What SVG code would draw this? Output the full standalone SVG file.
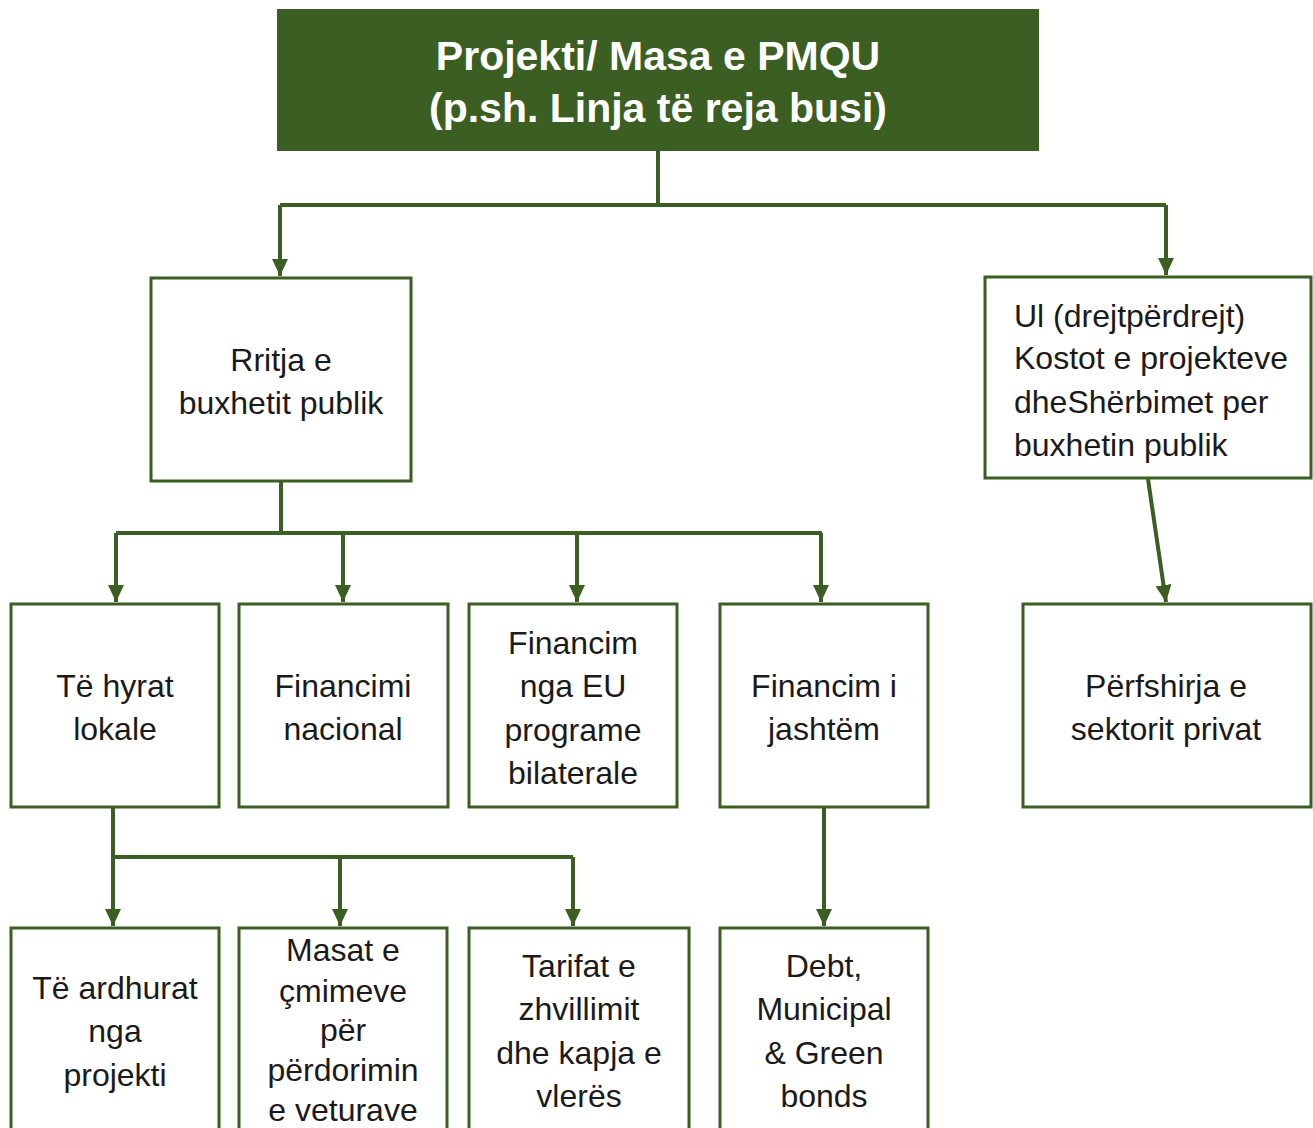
<svg xmlns="http://www.w3.org/2000/svg" width="1313" height="1128" viewBox="0 0 1313 1128">
<style>
.box{fill:#fff;stroke:#3b5e22;stroke-width:3}
.top{fill:#3b5e22}
.t{font-family:"Liberation Sans",Arial,sans-serif;font-size:32px;fill:#1a1a1a;text-anchor:middle}
.tl{text-anchor:start}
.title{font-family:"Liberation Sans",Arial,sans-serif;font-size:41px;font-weight:bold;fill:#fff;text-anchor:middle}
.c{fill:none;stroke:#3b5e22;stroke-width:4}
</style>
<defs>
<marker id="ah" markerUnits="userSpaceOnUse" markerWidth="18" markerHeight="16" refX="17" refY="8" orient="auto">
<path d="M0,0 L17,8 L0,16 z" fill="#3b5e22"/>
</marker>
</defs>
<rect width="1313" height="1128" fill="#fff"/>
<g id="connectors">
<path class="c" d="M658,151 V205 M280,205 H1166"/>
<path class="c" d="M280,205 V276" marker-end="url(#ah)"/>
<path class="c" d="M1166,205 V275" marker-end="url(#ah)"/>
<path class="c" d="M281,481 V533 M116,533 H822"/>
<path class="c" d="M116,533 V602" marker-end="url(#ah)"/>
<path class="c" d="M343,533 V602" marker-end="url(#ah)"/>
<path class="c" d="M577,533 V602" marker-end="url(#ah)"/>
<path class="c" d="M821,533 V602" marker-end="url(#ah)"/>
<path class="c" d="M1148,479 L1166,602" marker-end="url(#ah)"/>
<path class="c" d="M113,807 V857 M113,857 H573"/>
<path class="c" d="M113,857 V926" marker-end="url(#ah)"/>
<path class="c" d="M340,857 V926" marker-end="url(#ah)"/>
<path class="c" d="M573,857 V926" marker-end="url(#ah)"/>
<path class="c" d="M824,807 V926" marker-end="url(#ah)"/>
</g>
<g id="n-top">
<rect class="top" x="277" y="9" width="762" height="142"/>
<text class="title" x="658" y="70">Projekti/ Masa e PMQU</text>
<text class="title" x="658" y="122">(p.sh. Linja të reja busi)</text>
</g>
<g id="n-rritja">
<rect class="box" x="151" y="278" width="260" height="203"/>
<text class="t" x="281" y="371">Rritja e</text>
<text class="t" x="281" y="414">buxhetit publik</text>
</g>
<g id="n-ul">
<rect class="box" x="985" y="277" width="326" height="201"/>
<text class="t tl" x="1014" y="327">Ul (drejtpërdrejt)</text>
<text class="t tl" x="1014" y="369">Kostot e projekteve</text>
<text class="t tl" x="1014" y="413">dheShërbimet per</text>
<text class="t tl" x="1014" y="456">buxhetin publik</text>
</g>
<g id="n-hyrat">
<rect class="box" x="11" y="604" width="208" height="203"/>
<text class="t" x="115" y="697">Të hyrat</text>
<text class="t" x="115" y="740">lokale</text>
</g>
<g id="n-nacional">
<rect class="box" x="239" y="604" width="209" height="203"/>
<text class="t" x="343" y="697">Financimi</text>
<text class="t" x="343" y="740">nacional</text>
</g>
<g id="n-eu">
<rect class="box" x="469" y="604" width="208" height="203"/>
<text class="t" x="573" y="654">Financim</text>
<text class="t" x="573" y="697">nga EU</text>
<text class="t" x="573" y="741">programe</text>
<text class="t" x="573" y="784">bilaterale</text>
</g>
<g id="n-jashtem">
<rect class="box" x="720" y="604" width="208" height="203"/>
<text class="t" x="824" y="697">Financim i</text>
<text class="t" x="824" y="740">jashtëm</text>
</g>
<g id="n-privat">
<rect class="box" x="1023" y="604" width="288" height="203"/>
<text class="t" x="1166" y="697">Përfshirja e</text>
<text class="t" x="1166" y="740">sektorit privat</text>
</g>
<g id="n-ardhurat">
<rect class="box" x="11" y="928" width="208" height="210"/>
<text class="t" x="115" y="999">Të ardhurat</text>
<text class="t" x="115" y="1042">nga</text>
<text class="t" x="115" y="1086">projekti</text>
</g>
<g id="n-masat">
<rect class="box" x="239" y="928" width="208" height="210"/>
<text class="t" x="343" y="961">Masat e</text>
<text class="t" x="343" y="1002">çmimeve</text>
<text class="t" x="343" y="1041">për</text>
<text class="t" x="343" y="1081">përdorimin</text>
<text class="t" x="343" y="1121">e veturave</text>
</g>
<g id="n-tarifat">
<rect class="box" x="469" y="928" width="220" height="210"/>
<text class="t" x="579" y="977">Tarifat e</text>
<text class="t" x="579" y="1020">zhvillimit</text>
<text class="t" x="579" y="1064">dhe kapja e</text>
<text class="t" x="579" y="1107">vlerës</text>
</g>
<g id="n-debt">
<rect class="box" x="720" y="928" width="208" height="210"/>
<text class="t" x="824" y="977">Debt,</text>
<text class="t" x="824" y="1020">Municipal</text>
<text class="t" x="824" y="1064">&amp; Green</text>
<text class="t" x="824" y="1107">bonds</text>
</g>
</svg>
